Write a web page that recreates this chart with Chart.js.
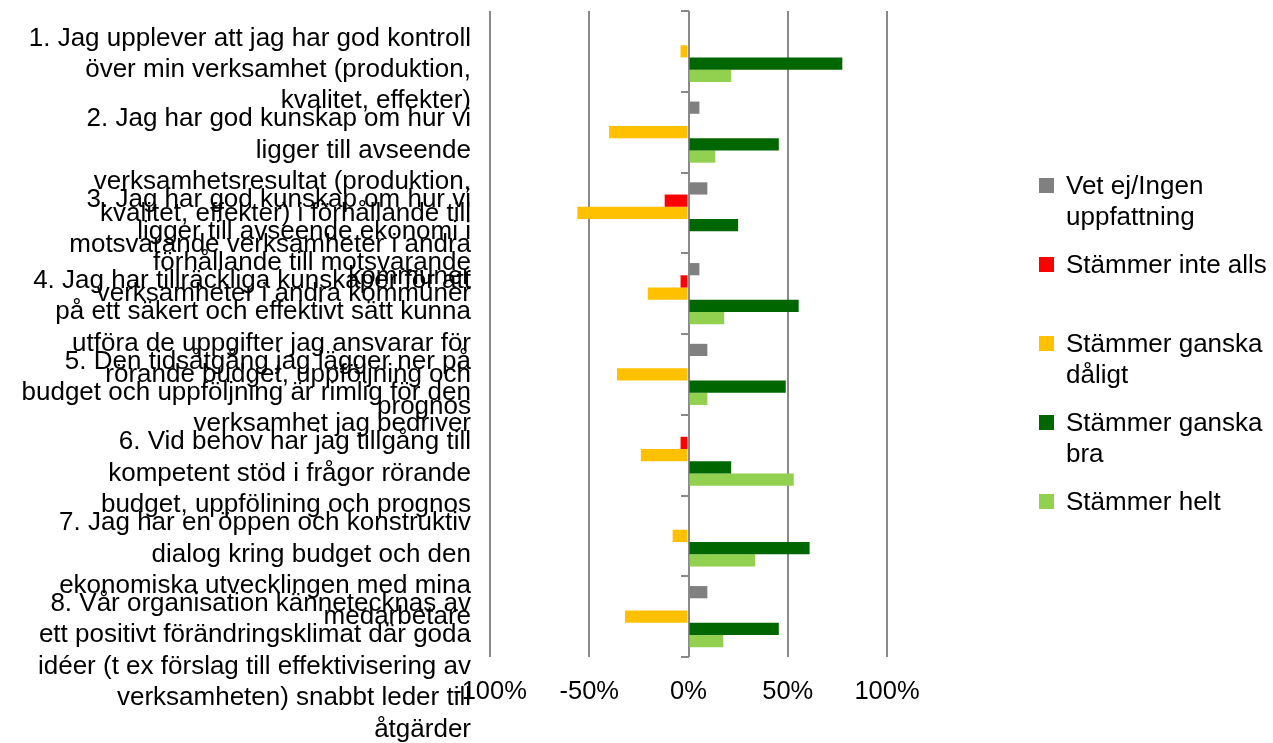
<!DOCTYPE html>
<html>
<head>
<meta charset="utf-8">
<script src="https://cdn.jsdelivr.net/npm/chart.js@4/dist/chart.umd.min.js"></script>
<style>
  html, body { margin: 0; padding: 0; background: #fff; }
  #wrap { position: relative; width: 1273px; height: 743px; overflow: hidden; }
  #legend { position: absolute; left: 1039px; top: 0; width: 234px;
            font-family: "Liberation Sans", Arial, sans-serif; font-size: 26px;
            line-height: 31px; color: #000; }
  .item { position: absolute; left: 0; display: flex; align-items: flex-start; }
  .sw { width: 15px; height: 15px; margin-top: 8px; margin-right: 12px; flex: none; }
  .tx { width: 210px; }
</style>
</head>
<body>
<div id="wrap">
  <canvas id="c" width="1273" height="743"></canvas>
  <div id="legend"></div>
</div>
<script>
// Survey statements (one line per array entry)
const categories = [
  ["1. Jag upplever att jag har god kontroll", "över min verksamhet (produktion,", "kvalitet, effekter)"],
  ["2. Jag har god kunskap om hur vi", "ligger till avseende", "verksamhetsresultat (produktion,", "kvalitet, effekter) i förhållande till", "motsvarande verksamheter i andra", "kommuner"],
  ["3. Jag har god kunskap om hur vi", "ligger till avseende ekonomi i", "förhållande till motsvarande", "verksamheter i andra kommuner"],
  ["4. Jag har tillräckliga kunskaper för att", "på ett säkert och effektivt sätt kunna", "utföra de uppgifter jag ansvarar för", "rörande budget, uppföljning och", "prognos"],
  ["5. Den tidsåtgång jag lägger ner på", "budget och uppföljning är rimlig för den", "verksamhet jag bedriver"],
  ["6. Vid behov har jag tillgång till", "kompetent stöd i frågor rörande", "budget, uppfölining och prognos"],
  ["7. Jag har en öppen och konstruktiv", "dialog kring budget och den", "ekonomiska utvecklingen med mina", "medarbetare"],
  ["8. Vår organisation kännetecknas av", "ett positivt förändringsklimat där goda", "idéer (t ex förslag till effektivisering av", "verksamheten) snabbt leder till", "åtgärder"]
];

// Answer shares in percent (negative answers drawn to the left)
const vetEj          = [0, 5.5, 9.5, 5.5, 9.5, 0, 0, 9.5];
const interAlls      = [0, 0, -12, -4, 0, -4, 0, 0];
const ganskaDaligt   = [-4, -40, -56, -20.5, -36, -24, -8, -32];
const ganskaBra      = [77.5, 45.5, 25, 55.5, 49, 21.5, 61, 45.5];
const helt           = [21.5, 13.5, 0, 18, 9.5, 53, 33.5, 17.5];

const seriesNames = ["Vet ej/Ingen uppfattning", "Stämmer inte alls", "Stämmer ganska dåligt", "Stämmer ganska bra", "Stämmer helt"];
const xTickValues = [-100, -50, 0, 50, 100];

const FONT = '"Liberation Sans", Arial, sans-serif';
const GRID = '#8a8a8a';

// every label gets the same line count so all first lines sit at the same offset
const maxLines = Math.max(...categories.map(l => l.length));
const yLabels = categories.map(l => l.concat(Array(maxLines - l.length).fill('')));
const LINE_H = 26 * 1.21;

const colors = ['#808080', '#FF0000', '#FFC000', '#006600', '#92D050'];
const values = [vetEj, interAlls, ganskaDaligt, ganskaBra, helt];

const chart = new Chart(document.getElementById('c'), {
  type: 'bar',
  data: {
    labels: yLabels,
    datasets: values.map((v, i) => ({
      label: seriesNames[i],
      data: v,
      backgroundColor: colors[i],
      borderWidth: 0,
      categoryPercentage: 0.757,
      barPercentage: 1.0
    }))
  },
  options: {
    indexAxis: 'y',
    responsive: false,
    animation: false,
    layout: { padding: { top: 11, right: 386, left: 0, bottom: 0 } },
    plugins: { legend: { display: false }, tooltip: { enabled: false } },
    scales: {
      x: {
        min: -100, max: 100,
        afterBuildTicks: s => { s.ticks = xTickValues.map(v => ({ value: v })); },
        afterFit: s => { s.height = 86; },
        grid: { color: GRID, lineWidth: 2, drawTicks: false },
        border: { display: false },
        ticks: {
          padding: 20,
          color: '#000',
          font: { family: FONT, size: 25.5, lineHeight: 1.2 },
          callback: v => v + '%'
        }
      },
      y: {
        afterFit: s => { s.width = 490; s.paddingTop = 0; s.paddingBottom = 0; },
        grid: { display: false, drawTicks: false },
        border: { display: false },
        ticks: {
          autoSkip: false,
          padding: 19,
          labelOffset: (maxLines - 1) / 2 * LINE_H - 13,
          color: '#000',
          font: { family: FONT, size: 26, lineHeight: 1.21 }
        }
      },
      // category boundary tick marks on the zero line
      yc: {
        type: 'category',
        axis: 'y',
        position: { x: 0 },
        offset: true,
        afterFit: s => { s.paddingTop = 0; s.paddingBottom = 0; },
        grid: { offset: true, drawOnChartArea: false, drawTicks: true, tickLength: 8, color: GRID, lineWidth: 2 },
        border: { display: false },
        ticks: { display: false }
      }
    }
  }
});

// Legend
const legend = document.getElementById('legend');
chart.data.datasets.forEach((ds, i) => {
  const item = document.createElement('div');
  item.className = 'item';
  item.style.top = (169.5 + i * 79) + 'px';
  const sw = document.createElement('div');
  sw.className = 'sw';
  sw.style.background = ds.backgroundColor;
  const tx = document.createElement('div');
  tx.className = 'tx';
  tx.textContent = ds.label;
  item.appendChild(sw);
  item.appendChild(tx);
  legend.appendChild(item);
});
</script>
</body>
</html>
